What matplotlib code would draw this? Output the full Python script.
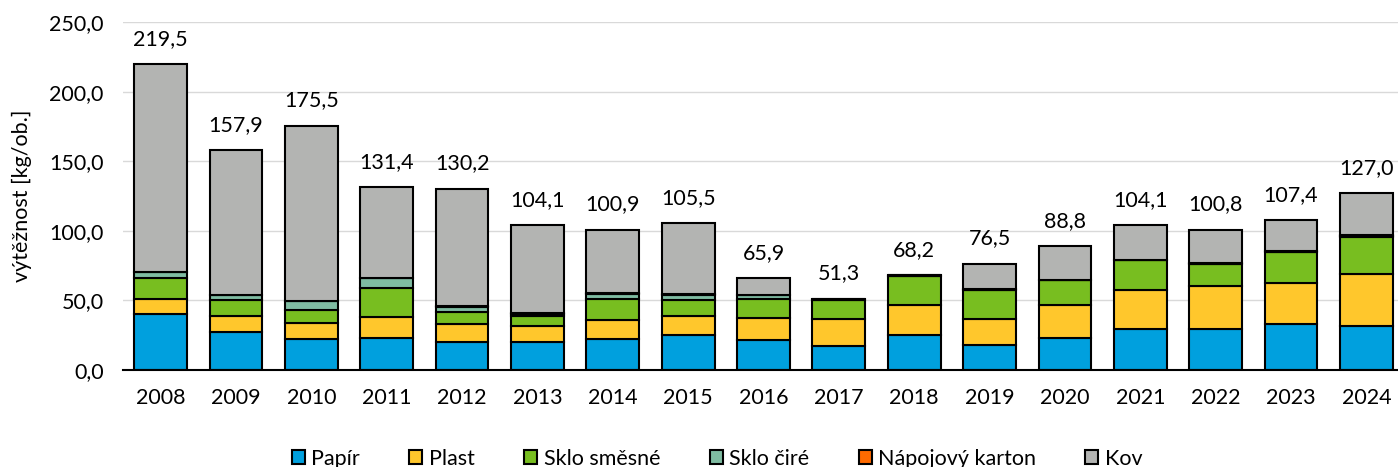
import numpy as np
import matplotlib.pyplot as plt

# Data (kg/ob.)
years = [str(y) for y in range(2008, 2025)]
papir = [40.2, 27.2, 22.0, 22.7, 20.0, 19.8, 22.4, 25.0, 21.2, 17.1, 25.5, 17.8, 22.9, 29.6, 29.6, 33.2, 31.5]
plast = [10.8, 11.3, 11.5, 15.1, 12.7, 11.5, 13.4, 14.0, 16.4, 19.4, 21.1, 18.7, 23.5, 28.1, 30.4, 29.2, 37.7]
sklo_smesne = [15.3, 11.5, 9.3, 21.3, 8.7, 7.2, 15.4, 11.5, 13.3, 13.5, 21.1, 21.2, 18.2, 21.1, 16.4, 22.3, 26.3]
sklo_cire = [3.9, 3.6, 6.5, 6.7, 3.8, 1.9, 3.6, 3.3, 2.7, 0.5, 0.0, 0.0, 0.0, 0.0, 0.0, 0.0, 0.5]
napojovy_karton = [0.3, 0.3, 0.2, 0.5, 0.5, 0.5, 0.5, 0.5, 0.3, 0.3, 0.2, 0.3, 0.3, 0.5, 0.5, 0.5, 1.0]
kov = [149.0, 104.0, 126.0, 65.1, 84.5, 63.2, 45.6, 51.2, 12.0, 0.5, 0.3, 18.5, 23.9, 24.8, 23.9, 22.2, 30.0]
totals = [219.5, 157.9, 175.5, 131.4, 130.2, 104.1, 100.9, 105.5, 65.9, 51.3, 68.2, 76.5, 88.8, 104.1, 100.8, 107.4, 127.0]

series = [
    ("Papír", papir, "#00A0DE"),
    ("Plast", plast, "#FFC72C"),
    ("Sklo směsné", sklo_smesne, "#78BE20"),
    ("Sklo čiré", sklo_cire, "#7FBCA2"),
    ("Nápojový karton", napojovy_karton, "#FF6A00"),
    ("Kov", kov, "#B3B4B2"),
]

plt.rcParams["font.family"] = ["Lato", "DejaVu Sans"]
fs = 15.5

fig = plt.figure(figsize=(13.98, 4.67), dpi=100)
ax = fig.add_axes([123 / 1398, 1 - 370 / 467, 1 - 123 / 1398, 348 / 467])

x = np.arange(len(years))
bottom = np.zeros(len(years))
for name, vals, color in series:
    ax.bar(x, vals, width=0.7, bottom=bottom, color=color, edgecolor="black",
           linewidth=1.5, label=name, zorder=3)
    bottom += np.array(vals)

for xi, t in zip(x, totals):
    ax.annotate(f"{t:.1f}".replace(".", ","), (xi, t), xytext=(0, 11),
                textcoords="offset points", ha="center", va="bottom", fontsize=fs)

ax.set_ylim(0, 250)
ax.set_xlim(-0.5, 16.42)
ax.set_yticks(np.arange(0, 251, 50))
ax.set_yticklabels([f"{v:.1f}".replace(".", ",") for v in np.arange(0, 251, 50)])
ax.set_xticks(x)
ax.set_xticklabels(years)
ax.tick_params(axis="both", length=0, labelsize=fs)
ax.tick_params(axis="x", pad=13)
ax.tick_params(axis="y", pad=14)
ax.grid(axis="y", color="#D9D9D9", linewidth=1, zorder=0)
for s in ["top", "right", "left"]:
    ax.spines[s].set_visible(False)
ax.spines["bottom"].set_color("black")
ax.spines["bottom"].set_linewidth(1.5)
ax.spines["bottom"].set_zorder(4)
ax.set_ylabel("výtěžnost [kg/ob.]", fontsize=fs, labelpad=12)

ax.legend(loc="center", bbox_to_anchor=(0.466, -0.255), ncol=6, frameon=False,
          fontsize=fs, handlelength=0.6, handleheight=0.6, handletextpad=0.3,
          columnspacing=2.3)

fig.savefig("out.png", dpi=100)
